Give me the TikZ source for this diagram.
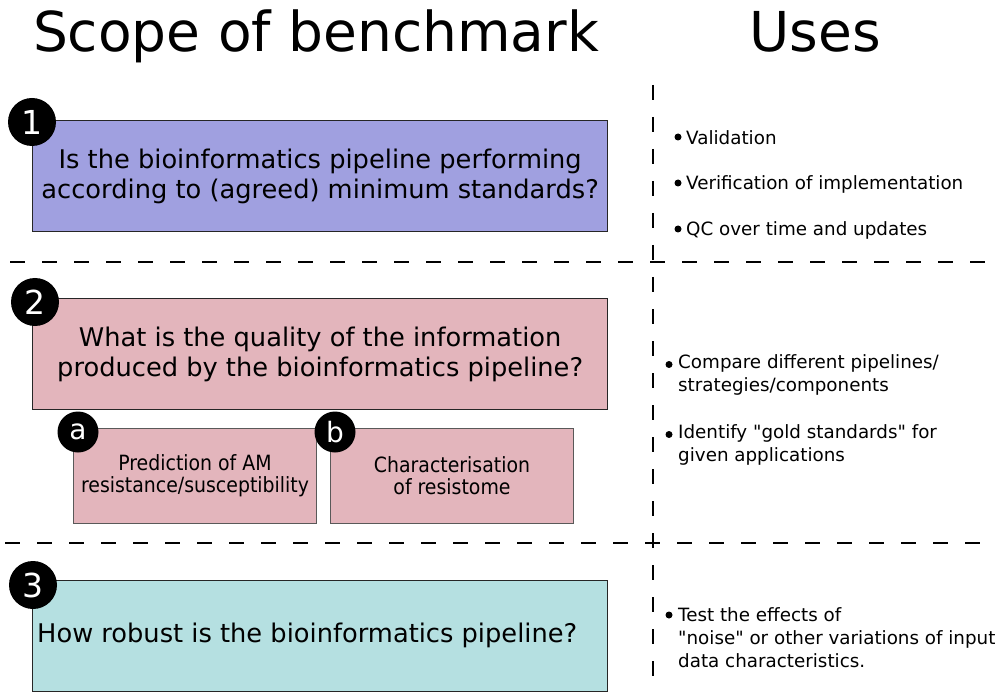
\documentclass[tikz,border=0pt]{standalone}
\usepackage{fontspec}
\setmainfont{DejaVu Sans}
\newfontfamily\condfont{DejaVu Sans Condensed}
\definecolor{boxone}{RGB}{160,160,224}
\definecolor{boxtwo}{RGB}{227,181,188}
\definecolor{boxthree}{RGB}{181,224,225}
\begin{document}
\begin{tikzpicture}[x=1pt,y=-1pt,
  qbox/.style={draw=black!85, line width=1.3pt, inner sep=0pt, align=center, font=\fontsize{25.7}{30}\selectfont},
  subbox/.style={draw=black!65, line width=1pt, inner sep=0pt, align=center, fill=boxtwo, font=\condfont\fontsize{21}{22}\selectfont},
  numcirc/.style={circle, fill=black, text=white, minimum size=48pt, inner sep=0pt, font=\fontsize{33}{33}\selectfont},
  letcirc/.style={circle, fill=black, text=white, minimum size=41pt, inner sep=0pt, font=\fontsize{28}{28}\selectfont},
  sep/.style={line width=1.4pt, dash pattern=on 15pt off 17pt},
  usetxt/.style={anchor=west, align=left, inner sep=0pt, font=\fontsize{18.3}{23}\selectfont},
  bul/.style={circle, fill=black, minimum size=7pt, inner sep=0pt},
  title/.style={anchor=base, inner sep=0pt, font=\fontsize{55}{55}\selectfont}
]
\useasboundingbox (0,0) rectangle (1000,700);

% titles
\node[title] (tscope) at (316,52) {Scope of benchmark};
\node[title] (tuses) at (815,52) {Uses};

% separators
\coordinate (h1a) at (10,262); \coordinate (h1b) at (985,262);
\coordinate (h2a) at (5,543); \coordinate (h2b) at (980,543);
\coordinate (va) at (653,85); \coordinate (vb) at (653,690);
\draw[sep] (h1a) -- (h1b);
\draw[sep] (h2a) -- (h2b);
\draw[sep] (va) -- (vb);

% question boxes
\node[qbox, fill=boxone, minimum width=575pt, minimum height=111pt, anchor=north west] (q1) at (32,120)
  {Is the bioinformatics pipeline performing\\according to (agreed) minimum standards?};
\node[qbox, fill=boxtwo, minimum width=575pt, minimum height=111pt, anchor=north west] (q2) at (32,298)
  {What is the quality of the information\\produced by the bioinformatics pipeline?};
\node[qbox, fill=boxthree, minimum width=575pt, minimum height=111pt, anchor=north west] (q3) at (32,580) {};
\node[anchor=west, inner sep=0pt, font=\fontsize{25.7}{30}\selectfont] (q3t) at (37,635.5)
  {How robust is the bioinformatics pipeline?};

% sub boxes
\node[subbox, minimum width=243pt, minimum height=95pt, anchor=north west] (sa) at (73,428)
  {Prediction of AM\\resistance/susceptibility};
\node[subbox, minimum width=243pt, minimum height=95pt, anchor=north west] (sb) at (330,428)
  {Characterisation\\of resistome};

% number circles
\node[numcirc] (c1) at (32,122) {1};
\node[numcirc] (c2) at (35,302) {2};
\node[numcirc] (c3) at (33,585) {3};
\node[letcirc] (ca) at (78,432) {a};
\node[letcirc] (cb) at (335,432) {b};

% uses
\node[bul] (b1) at (678,137) {};
\node[usetxt] (u1) at (686,138) {Validation};
\node[bul] (b2) at (678,183) {};
\node[usetxt] (u2) at (686,184) {Verification of implementation};
\node[bul] (b3) at (678,229) {};
\node[usetxt] (u3) at (686,230) {QC over time and updates};

\node[bul] (b4) at (669,364.5) {};
\node[usetxt] (u4) at (678,375) {Compare different pipelines/\\strategies/components};
\node[bul] (b5) at (669,434.5) {};
\node[usetxt] (u5) at (678,445) {Identify \textquotedbl gold standards\textquotedbl{} for\\given applications};

\node[bul] (b6) at (669,615) {};
\node[usetxt] (u6) at (678,638) {Test the effects of\\\textquotedbl noise\textquotedbl{} or other variations of input\\data characteristics.};
\end{tikzpicture}
\end{document}
